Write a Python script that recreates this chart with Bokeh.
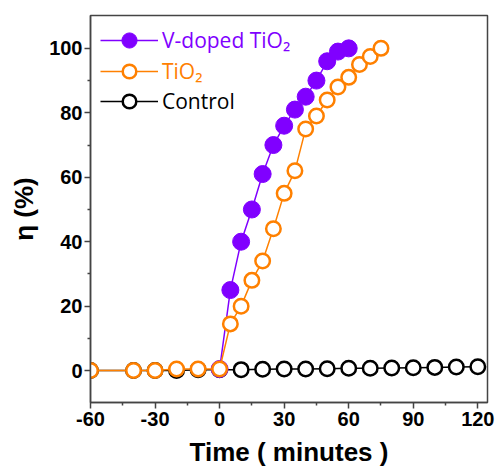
from bokeh.plotting import figure
from bokeh.models import Range1d, FixedTicker, Legend, LegendItem
from bokeh.embed import file_html
from bokeh.resources import INLINE

# Data
v_time = [0, 5, 10, 15, 20, 25, 30, 35, 40, 45, 50, 55, 60]
v_eta = [0.5, 25, 40, 50, 61, 70, 76, 81, 85, 90, 96, 99, 100]

t_time = [-60, -40, -30, -20, -10, 0, 5, 10, 15, 20, 25, 30, 35, 40, 45, 50, 55, 60, 65, 70, 75]
t_eta = [0, 0, 0, 0.5, 0.5, 0.5, 14.5, 20, 28, 34, 44, 55, 62, 75, 79, 84, 88, 91, 95, 97.5, 100]

c_time = [-60, -40, -30, -20, -10, 0, 10, 20, 30, 40, 50, 60, 70, 80, 90, 100, 110, 120]
c_eta = [0, 0, 0, 0, 0.3, 0.3, 0.3, 0.4, 0.5, 0.5, 0.6, 0.7, 0.7, 0.8, 0.9, 1.0, 1.1, 1.2]

x_ticks = [-60, -30, 0, 30, 60, 90, 120]
x_minor = [-45, -15, 15, 45, 75, 105]
y_ticks = [0, 20, 40, 60, 80, 100]
y_minor = [10, 30, 50, 70, 90]

PURPLE = "#8000ff"
ORANGE = "#ff8000"

p = figure(width=497, height=473, output_backend="svg", toolbar_location=None,
           x_range=Range1d(-60, 124.5), y_range=Range1d(-9.9, 110.2))
p.min_border_left = 90
p.min_border_right = 10
p.min_border_top = 15
p.min_border_bottom = 71
p.grid.visible = False
p.outline_line_color = "#444444"
p.outline_line_width = 1.5
p.background_fill_color = "white"
p.border_fill_color = "white"

p.xaxis.ticker = FixedTicker(ticks=x_ticks, minor_ticks=x_minor)
p.yaxis.ticker = FixedTicker(ticks=y_ticks, minor_ticks=y_minor)
p.xaxis.major_label_overrides = {t: str(t) for t in x_ticks}
p.yaxis.major_label_overrides = {t: str(t) for t in y_ticks}
for ax in (p.xaxis, p.yaxis):
    ax.axis_line_color = "#444444"
    ax.axis_line_width = 1.5
    ax.major_tick_line_color = "#444444"
    ax.minor_tick_line_color = "#444444"
    ax.major_tick_line_width = 1.5
    ax.minor_tick_line_width = 1.5
    ax.major_tick_out = 6
    ax.major_tick_in = 0
    ax.minor_tick_out = 3
    ax.minor_tick_in = 0
    ax.major_label_text_font = "Liberation Sans"
    ax.major_label_text_font_style = "bold"
    ax.major_label_text_font_size = "20px"
    ax.major_label_text_color = "black"
    ax.axis_label_text_font = "Liberation Sans"
    ax.axis_label_text_font_style = "bold"
    ax.axis_label_text_font_size = "26px"
    ax.axis_label_text_color = "black"

p.xaxis.axis_label = "Time ( minutes )"
p.yaxis.axis_label = "η (%)"
p.xaxis.major_label_standoff = 3
p.yaxis.major_label_standoff = 2
p.xaxis.axis_label_standoff = 8
p.yaxis.axis_label_standoff = 7

# Control
cl = p.line(c_time, c_eta, line_color="black", line_width=1.5)
cs = p.scatter(c_time, c_eta, marker="circle", size=14.5, fill_color="white",
               line_color="black", line_width=2.5)
# V-doped
vl = p.line(v_time, v_eta, line_color=PURPLE, line_width=1.5)
vs = p.scatter(v_time, v_eta, marker="circle", size=17, fill_color=PURPLE,
               line_color=PURPLE, line_width=1)
# TiO2
tl = p.line(t_time, t_eta, line_color=ORANGE, line_width=1.5)
ts = p.scatter(t_time, t_eta, marker="circle", size=14.5, fill_color="white",
               line_color=ORANGE, line_width=2.5)


def make_legend(label, renderers, color, y, gh):
    lg = Legend(items=[LegendItem(label=label, renderers=renderers)],
                location=(10, y), glyph_width=58, glyph_height=gh,
                label_standoff=4, padding=0, margin=0, spacing=0,
                border_line_alpha=0, background_fill_alpha=0,
                label_text_color=color, label_text_font="Open Sans",
                label_text_font_size="21px")
    p.add_layout(lg, "center")


make_legend("V-doped TiO₂", [vl, vs], PURPLE, 343, 38)
make_legend("TiO₂", [tl, ts], ORANGE, 314, 34)
make_legend("Control", [cl, cs], "black", 284, 34)

open("out.html", "w").write(file_html(p, INLINE))
